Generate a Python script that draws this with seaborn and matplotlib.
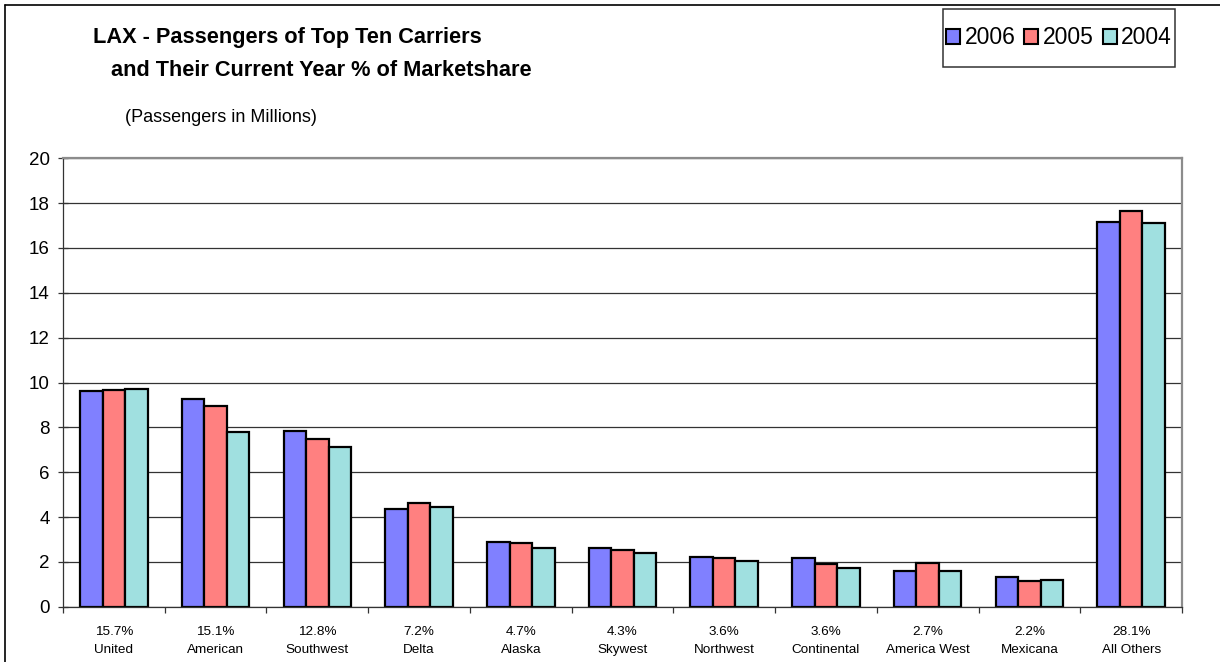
import matplotlib
matplotlib.use('Agg')
import matplotlib.pyplot as plt
import seaborn as sns
import pandas as pd
import numpy as np
from matplotlib.patches import Patch, Rectangle
from matplotlib.lines import Line2D
from matplotlib.ticker import FixedLocator

carriers = ["United", "American", "Southwest", "Delta", "Alaska", "Skywest",
            "Northwest", "Continental", "America West", "Mexicana", "All Others"]
share = ["15.7%", "15.1%", "12.8%", "7.2%", "4.7%", "4.3%",
         "3.6%", "3.6%", "2.7%", "2.2%", "28.1%"]
years = ["2006", "2005", "2004"]
p2006 = [9.62, 9.28, 7.84, 4.38, 2.88, 2.61, 2.20, 2.16, 1.60, 1.32, 17.18]
p2005 = [9.65, 8.97, 7.48, 4.62, 2.84, 2.54, 2.18, 1.90, 1.95, 1.15, 17.67]
p2004 = [9.71, 7.78, 7.11, 4.45, 2.61, 2.41, 2.04, 1.72, 1.58, 1.19, 17.13]
colors = ["#8080FF", "#FF8080", "#A0E0E0"]
yticks = [0, 2, 4, 6, 8, 10, 12, 14, 16, 18, 20]

sns.set_theme(style="white")
plt.rcParams['font.family'] = ['Liberation Sans', 'DejaVu Sans']
plt.rcParams['text.color'] = 'black'
plt.rcParams['xtick.color'] = 'black'
plt.rcParams['ytick.color'] = 'black'
plt.rcParams['axes.labelcolor'] = 'black'

df = pd.DataFrame({
    "carrier": carriers * 3,
    "year": np.repeat(years, len(carriers)),
    "value": p2006 + p2005 + p2004,
})

W, H = 1220, 662
fig = plt.figure(figsize=(W / 100, H / 100), dpi=100)
fig.patch.set_facecolor("white")
ax = fig.add_axes([63 / W, 1 - 606.7 / H, 1119 / W, (606.7 - 158.3) / H])

sns.barplot(data=df, x="carrier", y="value", hue="year", hue_order=years,
            order=carriers, palette=colors, saturation=1, width=0.664, gap=0,
            edgecolor="black", linewidth=1.6, errorbar=None, legend=False, ax=ax)

ax.set_xlim(-0.5, len(carriers) - 0.5)
ax.set_ylim(0, 20)
ax.set_yticks(yticks)
ax.set_yticklabels([str(v) for v in yticks], fontsize=13.5, color="black")
ax.tick_params(axis="y", direction="inout", length=7, width=0.9, color="#333333",
               pad=6, left=True, labelcolor="black")
ax.set_xticks(range(len(carriers)))
ax.set_xticklabels([f"{s}\n{c}" for s, c in zip(share, carriers)],
                   fontsize=9.7, linespacing=1.6, color="black")
ax.tick_params(axis="x", which="major", length=0, pad=14, labelcolor="black")
ax.xaxis.set_minor_locator(FixedLocator(np.arange(-0.5, len(carriers), 1.0)))
ax.tick_params(axis="x", which="minor", direction="out", length=4.5, width=0.9,
               color="#333333", bottom=True)
ax.set_xlabel("")
ax.set_ylabel("")

ax.set_axisbelow(True)
ax.yaxis.grid(True, color="#333333", linewidth=0.9)
ax.xaxis.grid(False)
for side in ["left", "bottom"]:
    ax.spines[side].set_color("#333333")
    ax.spines[side].set_linewidth(0.9)
for side in ["top", "right"]:
    ax.spines[side].set_color("#8c8c8c")
    ax.spines[side].set_linewidth(1.6)

# figure border lines
fig.add_artist(Line2D([5 / W, 1], [1 - 5 / H, 1 - 5 / H], color="black", lw=1.2,
                      transform=fig.transFigure))
fig.add_artist(Line2D([5 / W, 5 / W], [0, 1 - 5 / H], color="black", lw=1.2,
                      transform=fig.transFigure))

# titles
fig.text(93 / W, 1 - 37 / H, "LAX - Passengers of Top Ten Carriers",
         fontsize=15.7, fontweight="bold", ha="left", va="center", color="black")
fig.text(111 / W, 1 - 71 / H, "and Their Current Year % of Marketshare",
         fontsize=15.7, fontweight="bold", ha="left", va="center", color="black")
fig.text(125 / W, 1 - 117 / H, "(Passengers in Millions)",
         fontsize=13, ha="left", va="center", color="black")

# legend
fig.add_artist(Rectangle((943 / W, 1 - 66.7 / H), (1175 - 943) / W, (66.7 - 9.3) / H,
                         transform=fig.transFigure, facecolor="white",
                         edgecolor="#333333", lw=1.1))
handles = [Patch(facecolor=c, edgecolor="black", lw=1.5, label=y)
           for c, y in zip(colors, years)]
fig.legend(handles=handles, loc="center", bbox_to_anchor=(1059 / W, 1 - 38 / H),
           ncol=3, frameon=False, fontsize=16.5, handlelength=0.6, handleheight=0.6,
           handletextpad=0.2, columnspacing=0.4, borderpad=0, borderaxespad=0,
           labelcolor="black")

fig.savefig("out.png", dpi=100, facecolor="white")
